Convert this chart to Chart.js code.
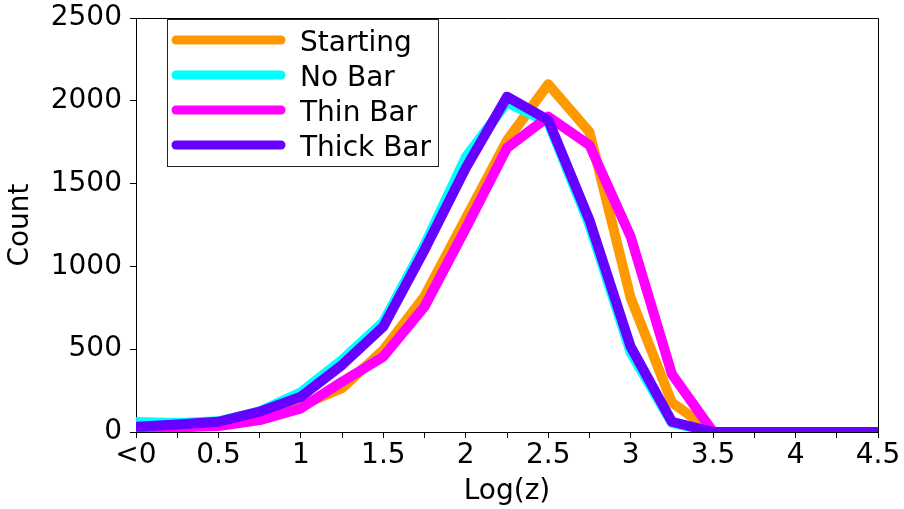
<!DOCTYPE html>
<html><head><meta charset="utf-8">
<script src="https://cdn.jsdelivr.net/npm/chart.js@4.4.0/dist/chart.umd.min.js"></script>
<style>html,body{margin:0;padding:0;background:#fff;overflow:hidden}</style>
</head><body>
<canvas id="c" width="904" height="509"></canvas>
<script>
// ---- data ----
const xValues   = [0, 0.25, 0.5, 0.75, 1, 1.25, 1.5, 1.75, 2, 2.25, 2.5, 2.75, 3, 3.25, 3.5, 3.75, 4, 4.25, 4.5];
const starting  = [20, 30, 40, 90, 160, 265, 495, 820, 1290, 1760, 2100, 1812, 810, 178, 0, 0, 0, 0, 0];
const noBar     = [60, 55, 65, 125, 240, 435, 665, 1130, 1660, 1990, 1870, 1250, 480, 55, 0, 0, 0, 0, 0];
const thinBar   = [20, 28, 36, 72, 143, 304, 455, 757, 1230, 1715, 1904, 1733, 1180, 350, 0, 0, 0, 0, 0];
const thickBar  = [32, 45, 62, 123, 213, 405, 636, 1100, 1594, 2025, 1884, 1280, 515, 62, 0, 0, 0, 0, 0];
const seriesNames = ['Starting', 'No Bar', 'Thin Bar', 'Thick Bar'];
const xTickLabels = {'0':'<0','0.5':'0.5','1':'1','1.5':'1.5','2':'2','2.5':'2.5','3':'3','3.5':'3.5','4':'4','4.5':'4.5'};
const yTicks = [0, 500, 1000, 1500, 2000, 2500];

const colors = ['#ff9900', '#00ffff', '#ff00ff', '#6600ff'];
const FONT = "'DejaVu Sans', sans-serif";

function pts(arr){ return xValues.map((x,i)=>({x:x, y:arr[i]})); }
const allSeries = [starting, noBar, thinBar, thickBar];

const frameAndLegend = {
  id: 'frameAndLegend',
  afterDatasetsDraw(chart){
    const ctx = chart.ctx, a = chart.chartArea;
    ctx.save();
    // top & right spines
    ctx.strokeStyle = '#000';
    ctx.lineWidth = 1;
    ctx.beginPath();
    ctx.moveTo(a.left, a.top + 0.5);
    ctx.lineTo(a.right + 0.5, a.top + 0.5);
    ctx.lineTo(a.right + 0.5, a.bottom);
    ctx.stroke();
    // legend
    const bx = 167, by = 19, bw = 271, bh = 147;
    ctx.fillStyle = '#fff';
    ctx.fillRect(bx, by, bw, bh);
    ctx.strokeStyle = '#222';
    ctx.strokeRect(bx + 0.5, by + 0.5, bw, bh);
    const rows = [40, 75, 110, 145];
    chart.data.datasets.forEach((ds, i) => {
      const y = rows[i];
      ctx.strokeStyle = ds.borderColor;
      ctx.lineWidth = 9;
      ctx.lineCap = 'round';
      ctx.beginPath();
      ctx.moveTo(176, y);
      ctx.lineTo(281, y);
      ctx.stroke();
      ctx.fillStyle = '#000';
      ctx.font = '28px ' + FONT;
      ctx.textBaseline = 'alphabetic';
      ctx.textAlign = 'left';
      ctx.fillText(ds.label, 300, y + 10.5);
    });
    ctx.restore();
  }
};

new Chart(document.getElementById('c'), {
  type: 'line',
  data: {
    datasets: allSeries.map((arr, i) => ({
      label: seriesNames[i],
      data: pts(arr),
      borderColor: colors[i],
      backgroundColor: colors[i],
      borderWidth: 10,
      pointRadius: 0,
      fill: false,
      tension: 0,
      clip: 0,
      borderJoinStyle: 'round',
      order: 4 - i
    }))
  },
  options: {
    responsive: false,
    animation: false,
    devicePixelRatio: 1,
    layout: { padding: { left: 0, right: 26, top: 18, bottom: 0 } },
    plugins: { legend: { display: false }, tooltip: { enabled: false } },
    scales: {
      x: {
        type: 'linear', min: 0, max: 4.5,
        afterFit(s){ s.height = 77; s.paddingLeft = 0; s.paddingRight = 0; },
        afterBuildTicks(s){ s.ticks = xValues.map(v => ({value: v})); },
        grid: { drawOnChartArea: false, drawTicks: true, tickLength: 6, color: '#000', tickWidth: 1 },
        border: { display: true, color: '#000', width: 1 },
        ticks: {
          autoSkip: false, maxRotation: 0, padding: 1, color: '#000',
          font: { family: FONT, size: 28 },
          callback(v){ const k = String(Math.round(v*100)/100); return xTickLabels[k] !== undefined ? xTickLabels[k] : ''; }
        },
        title: { display: true, text: 'Log(z)', color: '#000', font: { family: FONT, size: 28 }, padding: { top: 0, bottom: 0 } }
      },
      y: {
        min: 0, max: 2500,
        afterFit(s){ s.width = 136; s.paddingTop = 0; s.paddingBottom = 0; },
        afterBuildTicks(s){ s.ticks = yTicks.map(v => ({value: v})); },
        grid: { drawOnChartArea: false, drawTicks: true, tickLength: 6, color: '#000' },
        border: { display: true, color: '#000', width: 1 },
        ticks: { padding: 8, color: '#000', font: { family: FONT, size: 28 }, callback(v){ return String(v); } },
        title: { display: true, text: 'Count', color: '#000', font: { family: FONT, size: 28 }, padding: { top: 4, bottom: 0 } }
      }
    }
  },
  plugins: [frameAndLegend]
});
</script>
</body></html>
